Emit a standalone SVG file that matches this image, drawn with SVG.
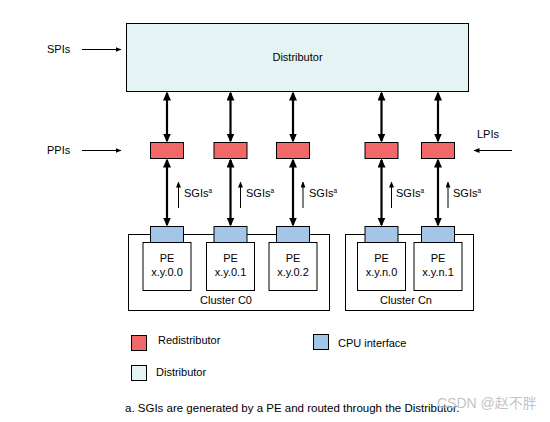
<svg xmlns="http://www.w3.org/2000/svg" width="550" height="422" viewBox="0 0 550 422">
<style>
text{font-family:"Liberation Sans",Arial,sans-serif;font-size:11px;fill:#000}
.c{text-anchor:middle}
.box{stroke:#000;stroke-width:1}
.dist{fill:#e4f4f4}
.red{fill:#f26868}
.cpu{fill:#a2c5e8}
.pe{fill:#fff}
.thick{stroke:#000;stroke-width:2.2;fill:none}
.thin{stroke:#000;stroke-width:1;fill:none}
.sup{font-size:6.5px}
.note{font-size:11.5px}
.wm{font-family:"Liberation Sans","Noto Sans CJK SC",sans-serif;font-size:14px;fill:#c4c4c4}
</style>
<defs>
<marker id="ah" viewBox="0 0 9 8" refX="7.5" refY="4" markerWidth="9" markerHeight="8" markerUnits="userSpaceOnUse" orient="auto-start-reverse"><path d="M0,0 L9,4 L0,8 z" fill="#000"/></marker>
<marker id="as" viewBox="0 0 6 5" refX="5.5" refY="2.5" markerWidth="6" markerHeight="5" markerUnits="userSpaceOnUse" orient="auto"><path d="M0,0 L6,2.5 L0,5 z" fill="#000"/></marker>
</defs>

<g id="clusterC0"><rect class="box" x="128.5" y="234.5" width="201" height="76" fill="#fff"/><text class="c" x="226" y="304">Cluster C0</text></g>
<g id="clusterCn"><rect class="box" x="345.5" y="234.5" width="128" height="76" fill="#fff"/><text class="c" x="406" y="304">Cluster Cn</text></g>

<g id="distributor"><rect class="box dist" x="126.5" y="23.5" width="342" height="68"/><text class="c" x="297.5" y="61">Distributor</text></g>

<g id="redist1"><rect class="box red" x="150.5" y="142.5" width="33" height="16"/></g>
<g id="redist2"><rect class="box red" x="214" y="142.5" width="33" height="16"/></g>
<g id="redist3"><rect class="box red" x="276.5" y="142.5" width="33" height="16"/></g>
<g id="redist4"><rect class="box red" x="365" y="142.5" width="33" height="16"/></g>
<g id="redist5"><rect class="box red" x="421.5" y="142.5" width="33" height="16"/></g>

<g id="pe1"><rect class="box pe" x="143" y="242.5" width="48" height="48"/><text class="c" x="167" y="262">PE</text><text class="c" x="167" y="276">x.y.0.0</text></g>
<g id="pe2"><rect class="box pe" x="206.5" y="242.5" width="48" height="48"/><text class="c" x="230.5" y="262">PE</text><text class="c" x="230.5" y="276">x.y.0.1</text></g>
<g id="pe3"><rect class="box pe" x="269" y="242.5" width="48" height="48"/><text class="c" x="293" y="262">PE</text><text class="c" x="293" y="276">x.y.0.2</text></g>
<g id="pe4"><rect class="box pe" x="357.5" y="242.5" width="48" height="48"/><text class="c" x="381.5" y="262">PE</text><text class="c" x="381.5" y="276">x.y.n.0</text></g>
<g id="pe5"><rect class="box pe" x="414" y="242.5" width="48" height="48"/><text class="c" x="438" y="262">PE</text><text class="c" x="438" y="276">x.y.n.1</text></g>

<g id="cpu1"><rect class="box cpu" x="150.5" y="226.5" width="33" height="16"/></g>
<g id="cpu2"><rect class="box cpu" x="214" y="226.5" width="33" height="16"/></g>
<g id="cpu3"><rect class="box cpu" x="276.5" y="226.5" width="33" height="16"/></g>
<g id="cpu4"><rect class="box cpu" x="365" y="226.5" width="33" height="16"/></g>
<g id="cpu5"><rect class="box cpu" x="421.5" y="226.5" width="33" height="16"/></g>

<g id="connectors">
<line class="thin" x1="82" y1="49.5" x2="121" y2="49.5" marker-end="url(#as)"/>
<line class="thin" x1="82" y1="150.5" x2="121" y2="150.5" marker-end="url(#as)"/>
<line class="thin" x1="512" y1="150.5" x2="474" y2="150.5" marker-end="url(#as)"/>

<line class="thick" x1="167" y1="93" x2="167" y2="141" marker-start="url(#ah)" marker-end="url(#ah)"/>
<line class="thick" x1="230.5" y1="93" x2="230.5" y2="141" marker-start="url(#ah)" marker-end="url(#ah)"/>
<line class="thick" x1="293" y1="93" x2="293" y2="141" marker-start="url(#ah)" marker-end="url(#ah)"/>
<line class="thick" x1="381.5" y1="93" x2="381.5" y2="141" marker-start="url(#ah)" marker-end="url(#ah)"/>
<line class="thick" x1="438" y1="93" x2="438" y2="141" marker-start="url(#ah)" marker-end="url(#ah)"/>

<line class="thick" x1="167" y1="160" x2="167" y2="225" marker-start="url(#ah)" marker-end="url(#ah)"/>
<line class="thick" x1="230.5" y1="160" x2="230.5" y2="225" marker-start="url(#ah)" marker-end="url(#ah)"/>
<line class="thick" x1="293" y1="160" x2="293" y2="225" marker-start="url(#ah)" marker-end="url(#ah)"/>
<line class="thick" x1="381.5" y1="160" x2="381.5" y2="225" marker-start="url(#ah)" marker-end="url(#ah)"/>
<line class="thick" x1="438" y1="160" x2="438" y2="225" marker-start="url(#ah)" marker-end="url(#ah)"/>

<line class="thin" x1="178.5" y1="208" x2="178.5" y2="182" marker-end="url(#as)"/>
<line class="thin" x1="240.5" y1="208" x2="240.5" y2="182" marker-end="url(#as)"/>
<line class="thin" x1="303" y1="208" x2="303" y2="182" marker-end="url(#as)"/>
<line class="thin" x1="391.5" y1="208" x2="391.5" y2="182" marker-end="url(#as)"/>
<line class="thin" x1="448" y1="208" x2="448" y2="182" marker-end="url(#as)"/>
</g>

<g id="labels">
<text x="47" y="53">SPIs</text>
<text x="47" y="154">PPIs</text>
<text x="477" y="138">LPIs</text>
<text x="184" y="197">SGIs<tspan class="sup" dy="-4">a</tspan></text>
<text x="246" y="197">SGIs<tspan class="sup" dy="-4">a</tspan></text>
<text x="309" y="197">SGIs<tspan class="sup" dy="-4">a</tspan></text>
<text x="396" y="197">SGIs<tspan class="sup" dy="-4">a</tspan></text>
<text x="453" y="197">SGIs<tspan class="sup" dy="-4">a</tspan></text>
</g>

<g id="legend">
<rect class="box red" x="131.5" y="335.5" width="15" height="15"/>
<text x="158" y="344">Redistributor</text>
<rect class="box cpu" x="313.5" y="334.5" width="15" height="15"/>
<text x="338" y="347">CPU interface</text>
<rect class="box dist" x="131.5" y="365.5" width="15" height="15"/>
<text x="156" y="376">Distributor</text>
<text class="note" x="125" y="412">a. SGIs are generated by a PE and routed through the Distributor.</text>
</g>
<text class="wm" x="437" y="408">CSDN @赵不胖</text>
</svg>
